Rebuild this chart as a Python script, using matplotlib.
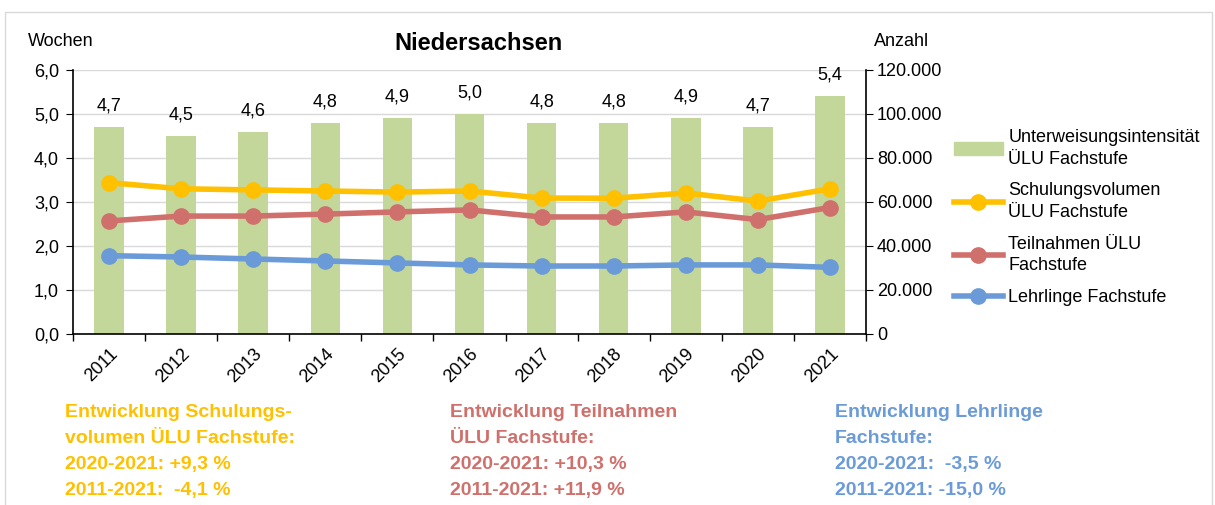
import numpy as np
import matplotlib.pyplot as plt
from matplotlib.patches import Rectangle
from matplotlib.lines import Line2D
from matplotlib.ticker import FuncFormatter, FixedLocator

plt.rcParams['font.family'] = ['Liberation Sans', 'DejaVu Sans']

# Daten
jahre = ['2011', '2012', '2013', '2014', '2015', '2016', '2017', '2018', '2019', '2020', '2021']
intensitaet = [4.7, 4.5, 4.6, 4.8, 4.9, 5.0, 4.8, 4.8, 4.9, 4.7, 5.4]
schulungsvolumen = [68800, 66000, 65500, 65000, 64500, 65000, 61800, 61700, 64100, 60400, 66000]
teilnahmen = [51400, 53600, 53600, 54500, 55500, 56400, 53200, 53200, 55500, 52000, 57500]
lehrlinge = [35600, 35000, 34100, 33200, 32300, 31400, 30900, 30900, 31400, 31400, 30300]

c_bar = '#C4D79B'
c_gelb = '#FFC000'
c_rot = '#D0706C'
c_blau = '#6A9BD8'

fig = plt.figure(figsize=(12.15, 5.05), dpi=100)
# Rahmen
fig.patches.append(Rectangle((5 / 1215, -0.01), 1207 / 1215, 1 - 12 / 505 + 0.01,
                             transform=fig.transFigure, fill=False,
                             edgecolor='#D9D9D9', lw=1))

ax = fig.add_axes([73 / 1215, 1 - 334 / 505, 793 / 1215, 264 / 505])
x = np.arange(len(jahre))

ax.bar(x, intensitaet, width=0.41, color=c_bar, zorder=2)
for xi, v in zip(x, intensitaet):
    ax.annotate(f'{v:.1f}'.replace('.', ','), (xi, v), xytext=(0, 9),
                textcoords='offset points', ha='center', va='bottom', fontsize=13)

ax.set_ylim(0, 6)
ax.set_xlim(-0.5, len(jahre) - 0.5)
ax.set_yticks(np.arange(0, 6.1, 1))
ax.yaxis.set_major_formatter(FuncFormatter(lambda v, p: f'{v:.1f}'.replace('.', ',')))
ax.grid(axis='y', color='#D9D9D9', lw=1, zorder=0)
ax.set_axisbelow(True)

# x-Achse: Striche zwischen den Kategorien, Beschriftung mittig
ax.xaxis.set_major_locator(FixedLocator(np.arange(-0.5, len(jahre), 1)))
ax.xaxis.set_minor_locator(FixedLocator(x))
ax.set_xticklabels([])
ax.set_xticklabels(jahre, minor=True, rotation=45, ha='right', rotation_mode='anchor', fontsize=13)
ax.tick_params(axis='x', which='major', length=5, width=1, direction='out')
ax.tick_params(axis='x', which='minor', length=0, pad=8)
ax.tick_params(axis='y', length=5, labelsize=13, direction='out', pad=5)

for s in ['top', 'right']:
    ax.spines[s].set_visible(False)
ax.spines['left'].set_linewidth(1.2)
ax.spines['bottom'].set_linewidth(1.2)

ax2 = ax.twinx()
ax2.set_ylim(0, 120000)
ax2.set_yticks(np.arange(0, 120001, 20000))
ax2.yaxis.set_major_formatter(FuncFormatter(lambda v, p: f'{int(v):,}'.replace(',', '.')))
ax2.tick_params(axis='y', length=5, labelsize=13, direction='out', pad=3)
for s in ['top', 'left', 'bottom']:
    ax2.spines[s].set_visible(False)
ax2.spines['right'].set_linewidth(1.2)

for werte, farbe in [(schulungsvolumen, c_gelb), (teilnahmen, c_rot), (lehrlinge, c_blau)]:
    ax2.plot(x, werte, color=farbe, lw=4, marker='o', markersize=11, zorder=3)

fig.text(28 / 1215, 1 - 42 / 505, 'Wochen', fontsize=13, va='center')
fig.text(874 / 1215, 1 - 42 / 505, 'Anzahl', fontsize=13, va='center')
fig.text(478 / 1215, 1 - 43 / 505, 'Niedersachsen', fontsize=17, fontweight='bold',
         ha='center', va='center')

handles = [
    Rectangle((0, 0), 1, 1, color=c_bar),
    Line2D([], [], color=c_gelb, lw=4, marker='o', markersize=11),
    Line2D([], [], color=c_rot, lw=4, marker='o', markersize=11),
    Line2D([], [], color=c_blau, lw=4, marker='o', markersize=11),
]
labels = ['Unterweisungsintensität\nÜLU Fachstufe', 'Schulungsvolumen\nÜLU Fachstufe',
          'Teilnahmen ÜLU\nFachstufe', 'Lehrlinge Fachstufe']
leg = fig.legend(handles, labels, loc='upper left', bbox_to_anchor=(954 / 1215, 1 - 129 / 505),
                 frameon=False, fontsize=13, handlelength=2.7, handletextpad=0.3,
                 labelspacing=0.82, borderaxespad=0, borderpad=0)
for t in leg.get_texts():
    t.set_linespacing(1.35)

# Entwicklung Texte
texte = [
    (65, c_gelb, 'Entwicklung Schulungs-\nvolumen ÜLU Fachstufe:\n2020-2021: +9,3 %\n2011-2021:  -4,1 %'),
    (450, c_rot, 'Entwicklung Teilnahmen\nÜLU Fachstufe:\n2020-2021: +10,3 %\n2011-2021: +11,9 %'),
    (835, c_blau, 'Entwicklung Lehrlinge\nFachstufe:\n2020-2021:  -3,5 %\n2011-2021: -15,0 %'),
]
for xp, farbe, t in texte:
    fig.text(xp / 1215, 1 - 404 / 505, t, color=farbe, fontsize=14, fontweight='bold',
             va='top', linespacing=1.68)

fig.savefig('out.png', dpi=100)
